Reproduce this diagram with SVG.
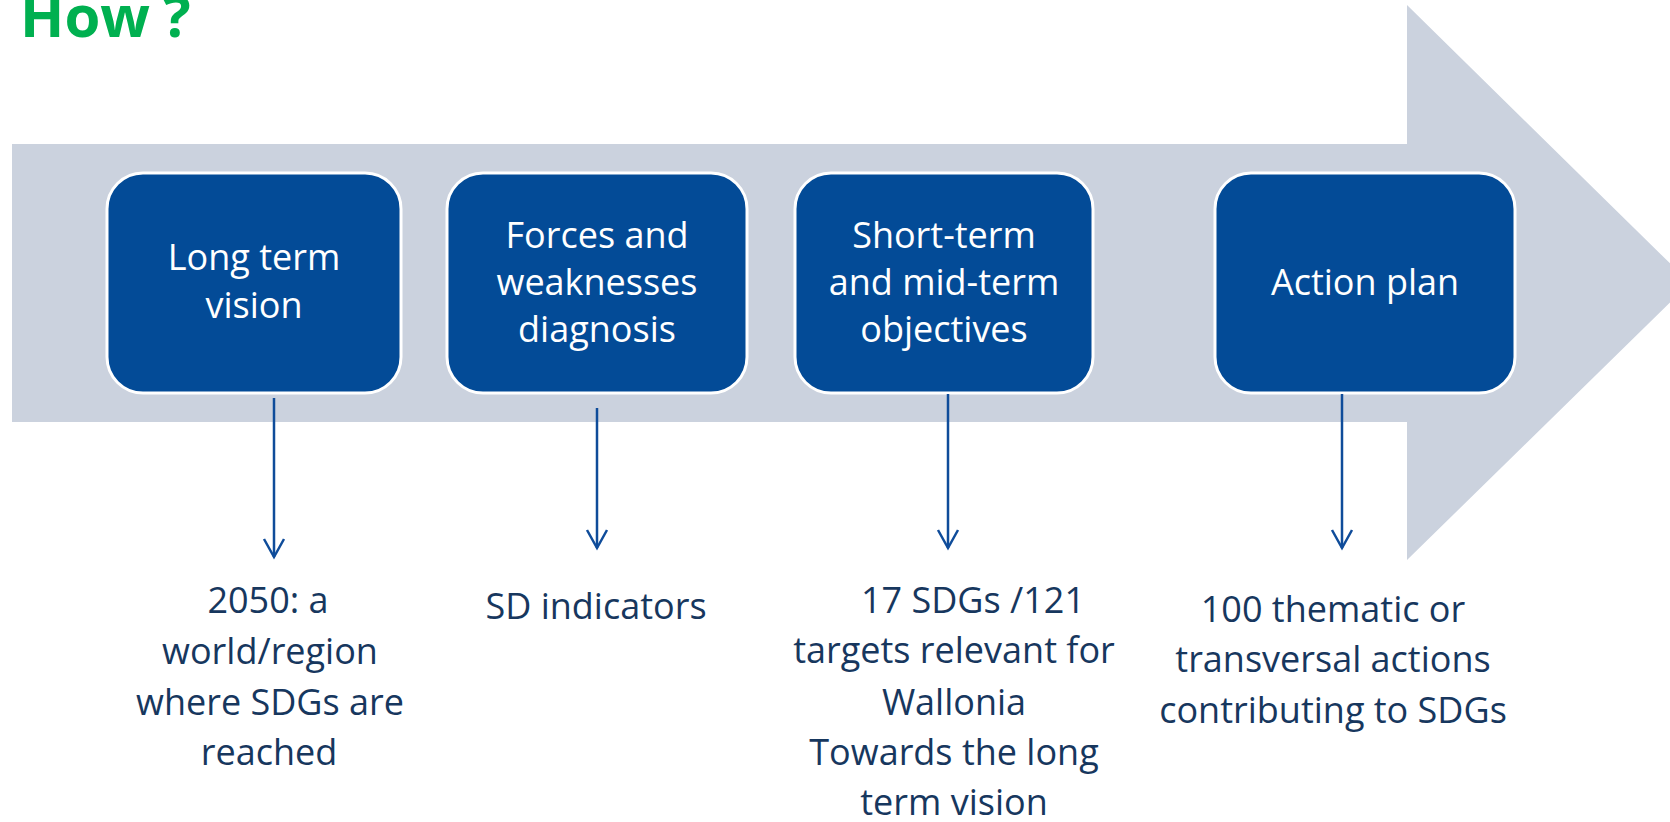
<svg xmlns="http://www.w3.org/2000/svg" width="1670" height="822" viewBox="0 0 1670 822">
<style>
.box{fill:#034B97;stroke:#FFFFFF;stroke-width:3}
.bt{font-family:"Open Sans","Liberation Sans",sans-serif;font-size:36px;fill:#FFFFFF;text-anchor:middle}
.lb{font-family:"Open Sans","Liberation Sans",sans-serif;font-size:36px;fill:#17375E}
.mid{text-anchor:middle}
.con{stroke:#0F4C9A;stroke-width:2.5;fill:none;marker-end:url(#ah)}
.title{font-family:"Open Sans","Liberation Sans",sans-serif;font-size:58px;font-weight:700;fill:#00B050}
</style>
<defs>
<marker id="ah" markerUnits="userSpaceOnUse" markerWidth="30" markerHeight="30" refX="0" refY="0" orient="auto" overflow="visible">
<path d="M-18,-10 L0,0 L-18,10" fill="none" stroke="#0F4C9A" stroke-width="2.5"/>
</marker>
</defs>
<rect x="0" y="0" width="1670" height="822" fill="#FFFFFF"/>
<text class="title" x="20" y="37">How<tspan x="163">?</tspan></text>
<g id="big-arrow">
<polygon points="12,144 1407,144 1407,5 1690,283 1407,560 1407,422 12,422" fill="#CBD2DE"/>
</g>
<g id="node-long-term-vision">
<rect class="box" x="107" y="173" width="294" height="220" rx="36" ry="36"/>
<text class="bt" x="254" y="270">Long term</text>
<text class="bt" x="254" y="318">vision</text>
</g>
<g id="node-forces">
<rect class="box" x="447" y="173" width="300" height="220" rx="36" ry="36"/>
<text class="bt" x="597" y="248">Forces and</text>
<text class="bt" x="597" y="295">weaknesses</text>
<text class="bt" x="597" y="342">diagnosis</text>
</g>
<g id="node-objectives">
<rect class="box" x="795" y="173" width="298" height="220" rx="36" ry="36"/>
<text class="bt" x="944" y="248">Short-term</text>
<text class="bt" x="944" y="295">and mid-term</text>
<text class="bt" x="944" y="342">objectives</text>
</g>
<g id="node-action-plan">
<rect class="box" x="1215" y="173" width="300" height="220" rx="36" ry="36"/>
<text class="bt" x="1365" y="295">Action plan</text>
</g>
<g id="connectors">
<line class="con" x1="274" y1="398" x2="274" y2="557"/>
<line class="con" x1="597" y1="408" x2="597" y2="548"/>
<line class="con" x1="948" y1="394" x2="948" y2="548"/>
<line class="con" x1="1342" y1="394" x2="1342" y2="548"/>
</g>
<g id="label-vision">
<text class="lb mid" x="268" y="613">2050: a</text>
<text class="lb mid" x="270" y="664">world/region</text>
<text class="lb mid" x="270" y="715">where SDGs are</text>
<text class="lb mid" x="269" y="765">reached</text>
</g>
<g id="label-indicators">
<text class="lb mid" x="596" y="619">SD indicators</text>
</g>
<g id="label-objectives">
<text class="lb mid" x="973" y="613">17 SDGs /121</text>
<text class="lb mid" x="954" y="663">targets relevant for</text>
<text class="lb mid" x="954" y="715">Wallonia</text>
<text class="lb mid" x="954" y="765">Towards the long</text>
<text class="lb mid" x="954" y="815">term vision</text>
</g>
<g id="label-actions">
<text class="lb mid" x="1333" y="622">100 thematic or</text>
<text class="lb mid" x="1333" y="672">transversal actions</text>
<text class="lb mid" x="1333" y="723">contributing to SDGs</text>
</g>
</svg>
